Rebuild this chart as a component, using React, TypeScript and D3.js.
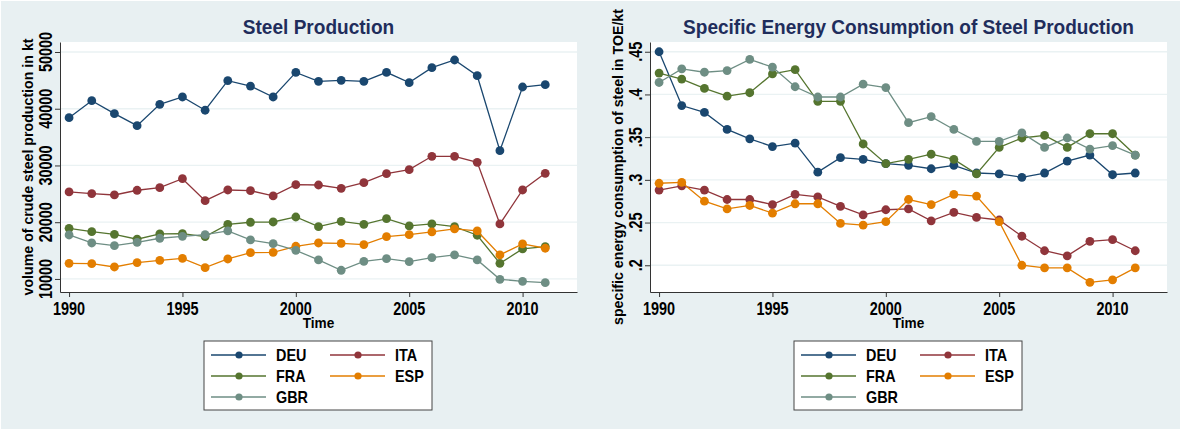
import React, { useEffect, useRef } from 'react';
import * as d3 from 'd3';

// years on the x axis
const years = [1990, 1991, 1992, 1993, 1994, 1995, 1996, 1997, 1998, 1999, 2000,
  2001, 2002, 2003, 2004, 2005, 2006, 2007, 2008, 2009, 2010, 2011];

const countries = ['DEU', 'ITA', 'FRA', 'ESP', 'GBR'];
const colors = ['#1a476f', '#90353b', '#55752f', '#e37e00', '#6e8e84'];

// crude steel production, kt
const prodDEU = [38420, 41420, 39130, 37010, 40780, 42070, 39730, 44950, 44000, 42070, 46400,
  44830, 45000, 44830, 46420, 44600, 47230, 48590, 45820, 32610, 43830, 44240];
const prodITA = [25330, 25040, 24800, 25630, 26090, 27670, 23800, 25680, 25560, 24630, 26620,
  26560, 25980, 26970, 28560, 29260, 31620, 31620, 30560, 19690, 25680, 28620];
const prodFRA = [18930, 18340, 17870, 17000, 17930, 17990, 17460, 19630, 19990, 20040, 20920,
  19220, 20160, 19630, 20630, 19340, 19690, 19220, 17700, 12760, 15290, 15700];
const prodESP = [12760, 12700, 12110, 12880, 13290, 13640, 11990, 13520, 14630, 14700, 15760,
  16340, 16280, 16050, 17460, 17810, 18280, 18810, 18460, 14230, 16170, 15410];
const prodGBR = [17750, 16340, 15870, 16460, 17170, 17520, 17810, 18460, 16870, 16220, 15050,
  13350, 11530, 13110, 13580, 13050, 13760, 14230, 13350, 9940, 9590, 9350];

// specific energy consumption, TOE/kt
const enDEU = [0.450, 0.387, 0.379, 0.359, 0.348, 0.339, 0.343, 0.309, 0.326, 0.324, 0.319,
  0.317, 0.313, 0.317, 0.308, 0.307, 0.303, 0.308, 0.322, 0.329, 0.306, 0.308];
const enITA = [0.288, 0.293, 0.288, 0.277, 0.277, 0.271, 0.283, 0.280, 0.269, 0.259, 0.265,
  0.266, 0.252, 0.262, 0.256, 0.253, 0.234, 0.217, 0.211, 0.228, 0.230, 0.217];
const enFRA = [0.425, 0.418, 0.407, 0.398, 0.402, 0.424, 0.429, 0.392, 0.392, 0.342, 0.319,
  0.324, 0.330, 0.324, 0.307, 0.338, 0.349, 0.352, 0.338, 0.354, 0.354, 0.329];
const enESP = [0.296, 0.297, 0.275, 0.266, 0.270, 0.261, 0.272, 0.272, 0.249, 0.247, 0.251,
  0.277, 0.271, 0.283, 0.281, 0.251, 0.200, 0.197, 0.197, 0.180, 0.183, 0.197];
const enGBR = [0.414, 0.430, 0.426, 0.428, 0.441, 0.432, 0.409, 0.397, 0.397, 0.412, 0.408,
  0.367, 0.374, 0.359, 0.345, 0.345, 0.355, 0.338, 0.349, 0.336, 0.340, 0.329];

const xTicks = [1990, 1995, 2000, 2005, 2010];
const prodTicks = [10000, 20000, 30000, 40000, 50000];
const prodTickLabels = ['10000', '20000', '30000', '40000', '50000'];
const enTicks = [0.2, 0.25, 0.3, 0.35, 0.4, 0.45];
const enTickLabels = ['.2', '.25', '.3', '.35', '.4', '.45'];

const FONT = '"Liberation Sans", Arial, Helvetica, sans-serif';

const drawPanel = (svg, opts) => {
  const { ox, title, yTitle, series, yDomain, ticks, tickLabels } = opts;
  const left = 60 + ox, right = 577 + ox, top = 42, bottom = 292;

  const x = d3.scaleLinear().domain([1989.6, 2012.4]).range([left, right]);
  const y = d3.scaleLinear().domain(yDomain).range([bottom, top]);

  const g = svg.append('g');

  // plot region
  g.append('rect')
    .attr('x', left).attr('y', top)
    .attr('width', right - left).attr('height', bottom - top)
    .attr('fill', '#ffffff');

  // grid
  g.selectAll('.grid').data(ticks).enter().append('line')
    .attr('x1', left).attr('x2', right)
    .attr('y1', d => y(d)).attr('y2', d => y(d))
    .attr('stroke', '#eaf2f3').attr('stroke-width', 1.3);

  // axes
  g.append('g')
    .attr('transform', `translate(${left},0)`)
    .call(d3.axisLeft(y).tickValues(ticks).tickSize(5).tickSizeOuter(0).tickFormat(() => ''))
    .call(a => a.selectAll('path,line').attr('stroke', '#333').attr('stroke-width', 1));
  g.append('g')
    .attr('transform', `translate(0,${bottom})`)
    .call(d3.axisBottom(x).tickValues(xTicks).tickSize(5).tickSizeOuter(0).tickFormat(() => ''))
    .call(a => a.selectAll('path,line').attr('stroke', '#333').attr('stroke-width', 1));

  // tick labels
  g.selectAll('.ylab').data(ticks).enter().append('text')
    .attr('transform', d => `translate(${left - 8.3},${y(d)}) rotate(-90) scale(0.78,1)`)
    .attr('text-anchor', 'middle')
    .attr('font-family', FONT).attr('font-weight', 'bold').attr('font-size', 18.5)
    .attr('fill', '#000')
    .text((d, i) => tickLabels[i]);
  g.selectAll('.xlab').data(xTicks).enter().append('text')
    .attr('transform', d => `translate(${x(d)},${bottom + 23}) scale(0.78,1)`)
    .attr('text-anchor', 'middle')
    .attr('font-family', FONT).attr('font-weight', 'bold').attr('font-size', 18.5)
    .attr('fill', '#000')
    .text(d => d);

  // axis titles
  g.append('text')
    .attr('transform', `translate(${left - 26.7},${(top + bottom) / 2}) rotate(-90)`)
    .attr('text-anchor', 'middle')
    .attr('font-family', FONT).attr('font-weight', 'bold').attr('font-size', 14.2)
    .text(yTitle);
  g.append('text')
    .attr('transform', `translate(${(left + right) / 2},${bottom + 36.3}) scale(0.88,1)`)
    .attr('text-anchor', 'middle')
    .attr('font-family', FONT).attr('font-weight', 'bold').attr('font-size', 15.5)
    .text('Time');

  // title
  g.append('text')
    .attr('transform', `translate(${(left + right) / 2},34) scale(0.93,1)`)
    .attr('text-anchor', 'middle')
    .attr('font-family', FONT).attr('font-weight', 'bold').attr('font-size', 20.5)
    .attr('fill', '#1f2d5c')
    .text(title);

  // series
  const line = d3.line().x((d, i) => x(years[i])).y(d => y(d));
  series.forEach((vals, k) => {
    g.append('path')
      .attr('d', line(vals))
      .attr('fill', 'none')
      .attr('stroke', colors[k]).attr('stroke-width', 1.3);
    g.selectAll(`.pt${k}`).data(vals).enter().append('circle')
      .attr('cx', (d, i) => x(years[i])).attr('cy', d => y(d))
      .attr('r', 4.4).attr('fill', colors[k]);
  });

  // legend
  const lg = g.append('g').attr('transform', `translate(${204 + ox},341)`);
  lg.append('rect')
    .attr('x', 0).attr('y', 0).attr('width', 228).attr('height', 69)
    .attr('fill', '#fff').attr('stroke', '#444').attr('stroke-width', 1);
  countries.forEach((c, k) => {
    const col = k % 2, row = Math.floor(k / 2);
    const lx = 7 + col * 119, ly = 14 + row * 21;
    lg.append('line')
      .attr('x1', lx).attr('x2', lx + 55).attr('y1', ly).attr('y2', ly)
      .attr('stroke', colors[k]).attr('stroke-width', 1.3);
    lg.append('circle').attr('cx', lx + 28).attr('cy', ly).attr('r', 3.6).attr('fill', colors[k]);
    lg.append('text')
      .attr('transform', `translate(${lx + 65},${ly + 5.8}) scale(0.9,1)`)
      .attr('font-family', FONT).attr('font-weight', 'bold').attr('font-size', 16)
      .attr('fill', '#000')
      .text(c);
  });
};

const App = () => {
  const svgRef = useRef();

  useEffect(() => {
    const svg = d3.select(svgRef.current);
    svg.selectAll('*').remove();

    svg.append('rect')
      .attr('x', 1).attr('y', 1).attr('width', 1179).attr('height', 428)
      .attr('fill', '#e8f0f2');

    drawPanel(svg, {
      ox: 0,
      title: 'Steel Production',
      yTitle: 'volume of crude steel production in kt',
      series: [prodDEU, prodITA, prodFRA, prodESP, prodGBR],
      yDomain: [7700, 51760],
      ticks: prodTicks,
      tickLabels: prodTickLabels,
    });
    drawPanel(svg, {
      ox: 590,
      title: 'Specific Energy Consumption of Steel Production',
      yTitle: 'specific energy consumption of steel in TOE/kt',
      series: [enDEU, enITA, enFRA, enESP, enGBR],
      yDomain: [0.1687, 0.4614],
      ticks: enTicks,
      tickLabels: enTickLabels,
    });
  }, []);

  return (
    <div style={{ position: 'absolute', left: 0, top: 0 }}>
      <svg ref={svgRef} width={1181} height={430} style={{ display: 'block', background: '#fff' }}></svg>
    </div>
  );
};

export default App;
